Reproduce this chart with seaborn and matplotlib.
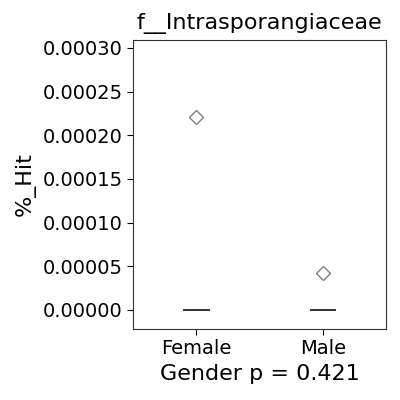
import numpy as np
import pandas as pd
import matplotlib
matplotlib.use('Agg')
import matplotlib.pyplot as plt
import seaborn as sns

# data: mostly zeros, one outlier per group
genders = ['Female', 'Male']
female_hits = [0.0] * 12 + [0.000221]
male_hits = [0.0] * 12 + [0.0000423]
p_value = 0.421
taxon = 'f__Intrasporangiaceae'

df = pd.DataFrame({
    'Gender': ['Female'] * len(female_hits) + ['Male'] * len(male_hits),
    '%_Hit': female_hits + male_hits,
})

sns.set_style('white')
plt.rcParams['font.family'] = ['DejaVu Sans']
plt.rcParams['text.color'] = 'black'
plt.rcParams['axes.labelcolor'] = 'black'
plt.rcParams['xtick.color'] = 'black'
plt.rcParams['ytick.color'] = 'black'

fig, ax = plt.subplots(figsize=(4, 4), dpi=100)
sns.boxplot(data=df, x='Gender', y='%_Hit', order=genders, width=0.21,
            color='white', linecolor='#333333', linewidth=1.2,
            flierprops=dict(marker='D', markersize=7, markerfacecolor='none',
                            markeredgecolor='#808080', markeredgewidth=1.0),
            ax=ax)

ax.set_ylim(-0.0000217, 0.000309)
ax.set_xlim(-0.5, 1.5)
ax.set_yticks(np.arange(0, 0.00031, 0.00005))
ax.yaxis.set_major_formatter(matplotlib.ticker.FormatStrFormatter('%.5f'))
ax.set_title(taxon, fontsize=16, color='black', pad=8)
ax.set_ylabel('%_Hit', fontsize=16, labelpad=5)
ax.set_xlabel(f'Gender p = {p_value}', fontsize=16, labelpad=4)
ax.tick_params(axis='both', labelsize=14, length=4, left=True, bottom=True)
for s in ax.spines.values():
    s.set_visible(True)
    s.set_color('#333333')

plt.subplots_adjust(left=0.333, right=0.965, top=0.9, bottom=0.178)
plt.savefig('out.png', dpi=100)
